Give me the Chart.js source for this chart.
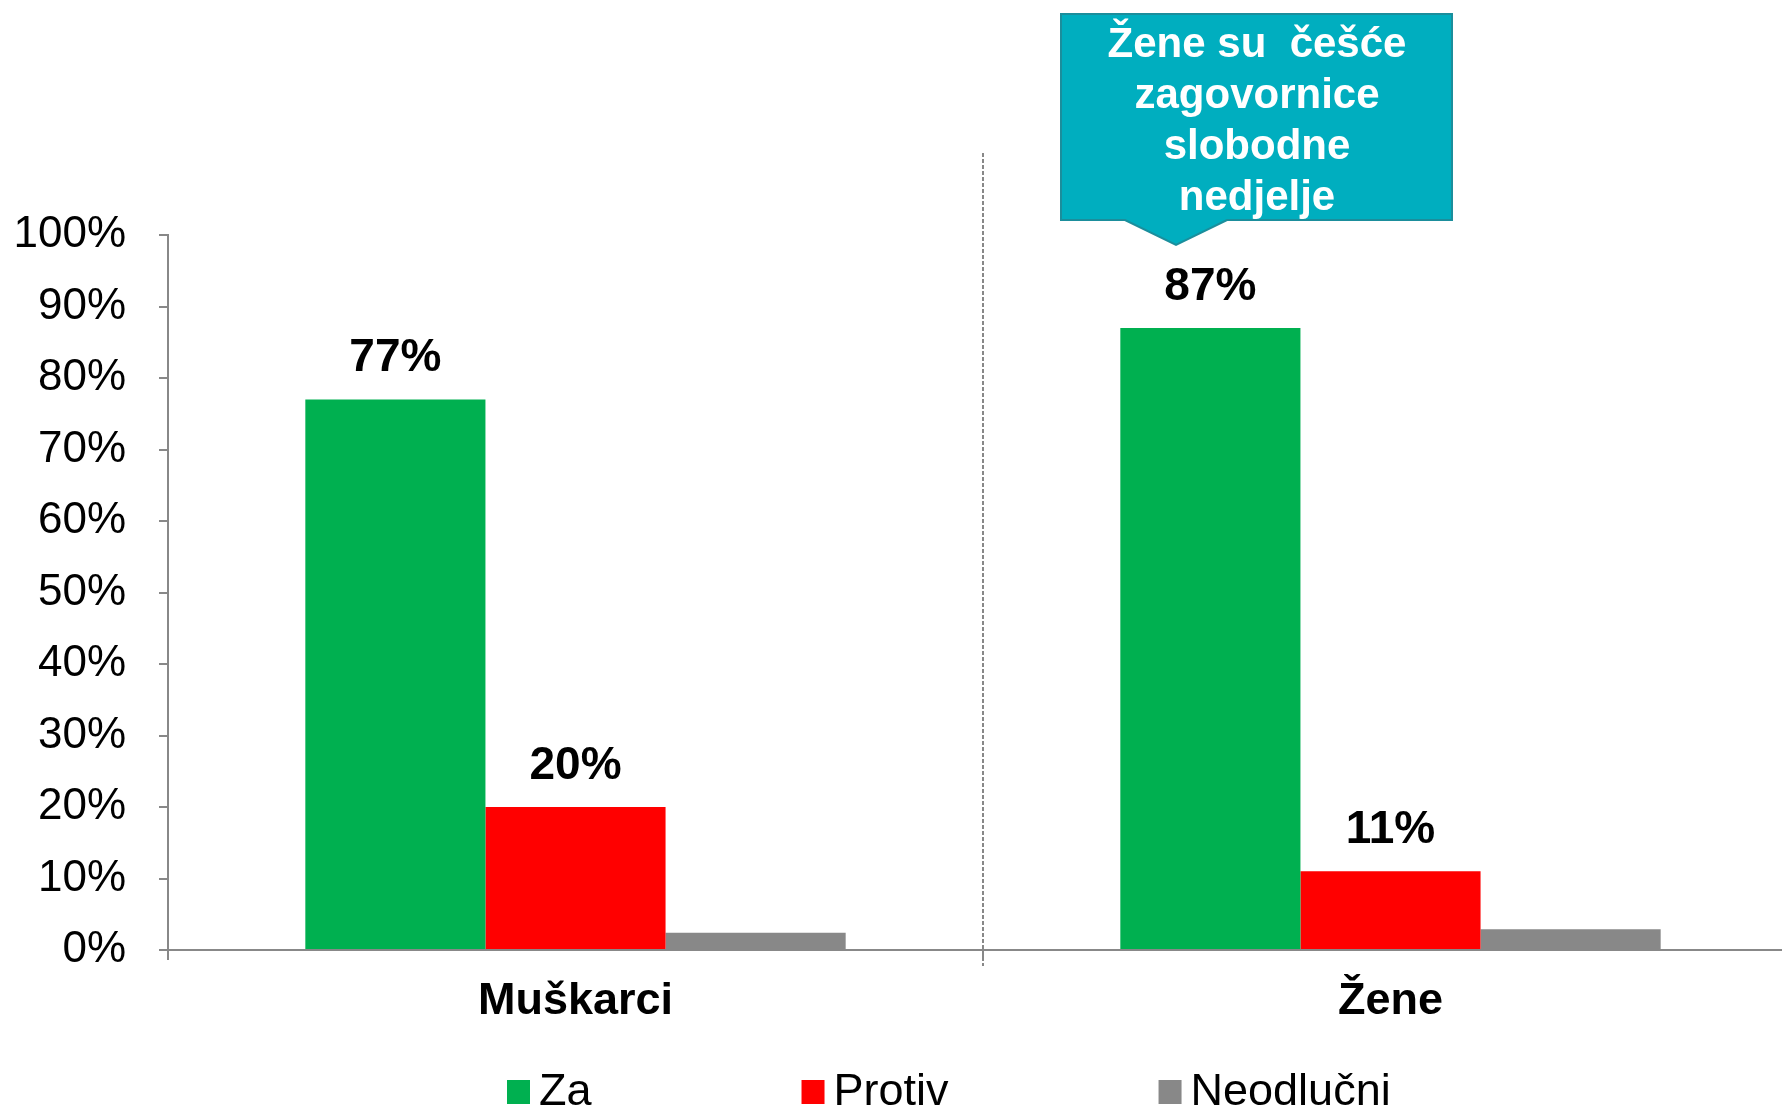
<!DOCTYPE html>
<html><head><meta charset="utf-8">
<script src="https://cdn.jsdelivr.net/npm/chart.js@4/dist/chart.umd.min.js"></script>
<style>
html,body{margin:0;padding:0;background:#fff;overflow:hidden;width:1782px;height:1109px}
#wrap{position:absolute;left:0;top:0;width:1800px;height:1109px}
</style></head><body>
<div id="wrap"><canvas id="c" width="1800" height="1109"></canvas></div>
<script>
const categories = ['Muškarci', 'Žene'];
const seriesNames = ['Za', 'Protiv', 'Neodlučni'];
const zaValues = [77, 87];
const protivValues = [20, 11];
const neodlucniValues = [2.4, 2.9];
const labelledSeries = [0, 1];
const yTickValues = [0, 10, 20, 30, 40, 50, 60, 70, 80, 90, 100];
const calloutLines = ['Žene su  češće', 'zagovornice', 'slobodne', 'nedjelje'];
const seriesColors = ['#00B050', '#FF0000', '#888888'];

const FONT = "'Liberation Sans', Arial, sans-serif";

const dataLabelPlugin = {
  id: 'dataLabels',
  afterDatasetsDraw(chart) {
    const ctx = chart.ctx;
    ctx.save();
    ctx.font = 'bold 46px ' + FONT;
    ctx.fillStyle = '#000';
    ctx.textAlign = 'center';
    ctx.textBaseline = 'middle';
    labelledSeries.forEach(di => {
      const meta = chart.getDatasetMeta(di);
      meta.data.forEach((bar, i) => {
        const v = chart.data.datasets[di].data[i];
        ctx.fillText(Math.round(v) + '%', bar.x, bar.y - 41);
      });
    });
    ctx.restore();
  }
};

const decorPlugin = {
  id: 'decor',
  afterDraw(chart) {
    const ctx = chart.ctx;
    const xs = chart.scales.x;
    ctx.save();
    // divider between categories
    const mid = (xs.getPixelForValue(0) + xs.getPixelForValue(1)) / 2;
    ctx.strokeStyle = '#888';
    ctx.lineWidth = 2;
    ctx.setLineDash([4, 2]);
    ctx.beginPath();
    ctx.moveTo(mid, 153);
    ctx.lineTo(mid, 966);
    ctx.stroke();
    ctx.setLineDash([]);

    // callout
    ctx.beginPath();
    ctx.moveTo(1061, 14);
    ctx.lineTo(1452, 14);
    ctx.lineTo(1452, 220);
    ctx.lineTo(1227, 220);
    ctx.lineTo(1176, 245);
    ctx.lineTo(1125, 220);
    ctx.lineTo(1061, 220);
    ctx.closePath();
    ctx.fillStyle = '#00AEBF';
    ctx.fill();
    ctx.strokeStyle = '#1B8E9C';
    ctx.lineWidth = 2;
    ctx.stroke();
    ctx.fillStyle = '#fff';
    ctx.font = 'bold 42px ' + FONT;
    ctx.textAlign = 'center';
    ctx.textBaseline = 'middle';
    calloutLines.forEach((t, i) => ctx.fillText(t, 1257, 45 + i * 51));

    // legend
    ctx.font = '45px ' + FONT;
    ctx.textAlign = 'left';
    ctx.textBaseline = 'middle';
    let x = 507;
    chart.data.datasets.forEach(ds => {
      ctx.fillStyle = ds.backgroundColor;
      ctx.fillRect(x, 1080, 23, 24);
      ctx.fillStyle = '#000';
      ctx.fillText(ds.label, x + 32, 1093);
      x += 32 + ctx.measureText(ds.label).width + 210;
    });
    ctx.restore();
  }
};

new Chart(document.getElementById('c'), {
  type: 'bar',
  data: {
    labels: categories,
    datasets: [
      { label: seriesNames[0], data: zaValues, backgroundColor: seriesColors[0] },
      { label: seriesNames[1], data: protivValues, backgroundColor: seriesColors[1] },
      { label: seriesNames[2], data: neodlucniValues, backgroundColor: seriesColors[2] }
    ]
  },
  options: {
    responsive: false,
    devicePixelRatio: 1,
    animation: false,
    layout: { padding: { top: 235, right: 2, bottom: 0, left: 0 } },
    datasets: { bar: { categoryPercentage: 0.663, barPercentage: 1 } },
    plugins: { legend: { display: false }, tooltip: { enabled: false } },
    scales: {
      x: {
        offset: true,
        grid: { display: true, offset: true, drawOnChartArea: false, tickLength: 10, color: '#888', lineWidth: 2 },
        border: { color: '#888', width: 2 },
        ticks: { font: { family: FONT, size: 45, weight: 'bold' }, color: '#000', padding: 15 },
        afterFit: s => { s.height = 159; }
      },
      y: {
        min: 0, max: 100,
        afterBuildTicks: s => { s.ticks = yTickValues.map(v => ({ value: v })); },
        ticks: { callback: v => v + '%', font: { family: FONT, size: 44 }, color: '#000', padding: 33 },
        grid: { drawOnChartArea: false, tickLength: 9, color: '#888', lineWidth: 2 },
        border: { color: '#888', width: 2 },
        afterFit: s => { s.width = 168; }
      }
    }
  },
  plugins: [dataLabelPlugin, decorPlugin]
});
</script>
</body></html>
